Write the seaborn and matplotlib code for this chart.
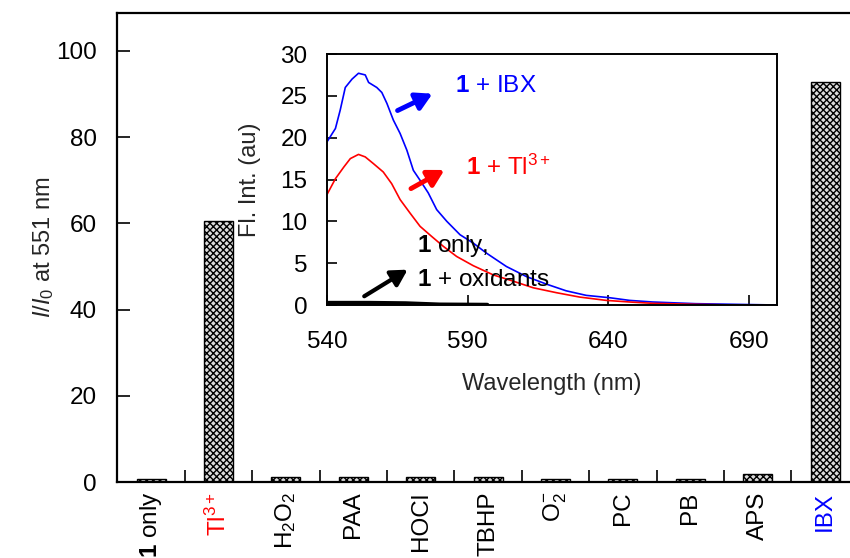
import matplotlib
matplotlib.use("Agg")
import matplotlib.pyplot as plt
import seaborn as sns
import numpy as np
import pandas as pd
from matplotlib.ticker import FixedLocator

sns.set_theme(style="white")
plt.rcParams['font.family'] = ['Liberation Sans', 'DejaVu Sans']
plt.rcParams['mathtext.fontset'] = 'custom'
plt.rcParams['mathtext.rm'] = 'Liberation Sans'
plt.rcParams['mathtext.it'] = 'Liberation Sans:italic'
plt.rcParams['mathtext.bf'] = 'Liberation Sans:bold'
plt.rcParams['hatch.linewidth'] = 1.0

# ---- data ----
categories = [r"$\mathbf{1}$ only", r"Tl$^{3+}$", r"H$_2$O$_2$", "PAA", "HOCl", "TBHP",
              r"O$_2^{-}$", "PC", "PB", "APS", "IBX"]
ratios = [0.8, 60.5, 1.2, 1.2, 1.2, 1.2, 0.8, 0.8, 0.8, 1.8, 92.8]
label_colors = ["black", "red", "black", "black", "black", "black",
                "black", "black", "black", "black", "blue"]

wl_ibx = [540, 543, 544.7, 546.5, 548.9, 551.2, 553.6, 554.8, 557.7, 559.5, 561.3, 563.6,
          566, 568.4, 570.7, 573.1, 576, 579, 582.6, 587.3, 592, 596.7, 603.8, 610.9,
          618, 625, 632.2, 640.5, 647.6, 655.8, 671, 685, 700]
fl_ibx = [19.5, 21.1, 23.3, 26.0, 27.0, 27.7, 27.5, 26.6, 26.0, 25.4, 24.1, 22.1,
          20.5, 18.5, 16.1, 14.9, 13.4, 11.4, 10.0, 8.4, 7.4, 6.2, 4.6, 3.4,
          2.5, 1.7, 1.15, 0.87, 0.55, 0.36, 0.16, 0.08, 0.0]
wl_tl = [540, 543, 546, 548.3, 551.2, 553.6, 556.5, 560, 563, 566, 569.5, 573.1, 577.2,
         581.4, 586.1, 592, 599.1, 606.2, 613.3, 621.6, 629.8, 639.3, 647.6, 655.8, 671, 685]
fl_tl = [13.2, 15.1, 16.5, 17.5, 18.0, 17.7, 16.9, 15.9, 14.5, 12.6, 11.0, 9.4, 8.2,
         7.0, 5.8, 4.7, 3.6, 2.85, 2.06, 1.47, 0.95, 0.55, 0.36, 0.2, 0.08, 0.0]
wl_only = [540, 555, 568, 580, 597]
fl_only = [0.25, 0.25, 0.2, 0.05, 0.02]

# ---- figure ----
fig = plt.figure(figsize=(8.5, 5.58), dpi=100)
ax = fig.add_axes([0.1382, 0.1362, 0.8721, 0.8405])

df = pd.DataFrame({"cat": categories, "val": ratios})
sns.barplot(data=df, x="cat", y="val", color="white", width=0.43, ax=ax,
            edgecolor="black", linewidth=1.0)
for p in ax.patches:
    p.set_hatch("xxxxx")
    p.set_facecolor("#dcdcdc")
    p.set_edgecolor("black")

ax.set_xlim(-0.5, 10.5)
ax.set_ylim(0, 108.8)
ax.set_yticks([0, 20, 40, 60, 80, 100])
ax.set_xlabel("")
ax.set_ylabel(r"$I$/$I_{0}$ at 551 nm", fontsize=17)
ax.yaxis.set_label_coords(-0.083, 0.5)
for s in ax.spines.values():
    s.set_color("black")
    s.set_linewidth(1.6)
ax.tick_params(axis="y", direction="in", length=9, width=1.2, labelsize=17.5, pad=15,
               left=True, colors="black")
ax.tick_params(axis="x", which="major", length=0, labelsize=17.5, pad=7, rotation=90)
ax.xaxis.set_minor_locator(FixedLocator(np.arange(0.5, 10, 1.0)))
ax.tick_params(axis="x", which="minor", direction="in", length=9, width=1.2,
               bottom=True, color="black")
for lab, c in zip(ax.get_xticklabels(), label_colors):
    lab.set_color(c)
    lab.set_verticalalignment("top")

# ---- inset ----
ins = fig.add_axes([0.3847, 0.4534, 0.5294, 0.4498])
sns.lineplot(x=wl_ibx, y=fl_ibx, ax=ins, color="blue", lw=1.2)
sns.lineplot(x=wl_tl, y=fl_tl, ax=ins, color="red", lw=1.2)
sns.lineplot(x=wl_only, y=fl_only, ax=ins, color="black", lw=3)
ins.set_xlim(540, 700)
ins.set_ylim(0, 30)
ins.set_xticks([540, 590, 640, 690])
ins.set_yticks([0, 5, 10, 15, 20, 25, 30])
ins.tick_params(direction="in", length=7, width=1.2, labelsize=17.5, colors="black",
                left=True, bottom=True)
ins.tick_params(axis="x", pad=19)
ins.tick_params(axis="y", pad=14)
for s in ins.spines.values():
    s.set_color("black")
    s.set_linewidth(1.4)
ins.set_xlabel("Wavelength (nm)", fontsize=17, labelpad=14)
ins.set_ylabel("Fl. Int. (au)", fontsize=17, labelpad=14)

ins.annotate("", xy=(578.4, 25.4), xytext=(564.2, 23.1),
             arrowprops=dict(arrowstyle="-|>,head_length=0.8,head_width=0.45",
                             color="blue", lw=3.5))
ins.annotate("", xy=(582.6, 16.3), xytext=(569, 13.75),
             arrowprops=dict(arrowstyle="-|>,head_length=0.8,head_width=0.45",
                             color="red", lw=3.5))
ins.annotate("", xy=(569.5, 4.4), xytext=(552.4, 0.87),
             arrowprops=dict(arrowstyle="-|>,head_length=0.8,head_width=0.45",
                             color="black", lw=3))
ins.text(585.5, 26.2, r"$\mathbf{1}$ + IBX", color="blue", fontsize=17.5, va="center", ha="left")
ins.text(589.5, 16.5, r"$\mathbf{1}$ + Tl$^{3+}$", color="red", fontsize=17.5, va="center", ha="left")
ins.text(572, 7.0, r"$\mathbf{1}$ only,", color="black", fontsize=17.5, va="center", ha="left")
ins.text(572, 3.0, r"$\mathbf{1}$ + oxidants", color="black", fontsize=17.5, va="center", ha="left")

fig.savefig("out.png", dpi=100)
